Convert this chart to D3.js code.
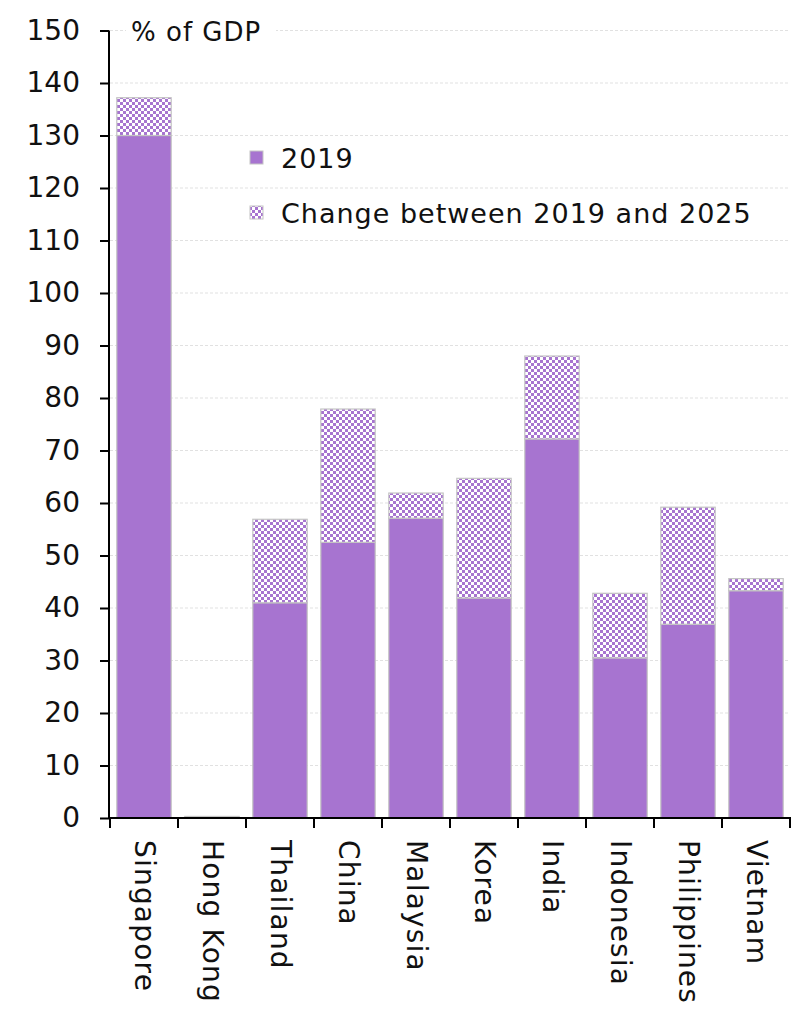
<!DOCTYPE html>
<html><head><meta charset="utf-8">
<script src="https://cdn.jsdelivr.net/npm/d3@7"></script>
<style>
body{margin:0;background:#fff;}
text{font-family:"DejaVu Sans",sans-serif;fill:#111;}
</style></head>
<body>
<svg id="chart" width="804" height="1009"></svg>
<script>
const categories = ["Singapore","Hong Kong","Thailand","China","Malaysia","Korea","India","Indonesia","Philippines","Vietnam"];
const values2019 = [130, 0.3, 41.0, 52.5, 57.1, 41.9, 72.2, 30.5, 36.9, 43.3];
const change2019to2025 = [7.2, 0, 15.9, 25.4, 4.8, 22.8, 15.8, 12.3, 22.3, 2.3];
const yTicks = [0,10,20,30,40,50,60,70,80,90,100,110,120,130,140,150];
const seriesNames = ["2019","Change between 2019 and 2025"];
const unitLabel = "% of GDP";

const svg = d3.select("#chart");
const purple = "#a774d0";
const defs = svg.append("defs");
const pat = defs.append("pattern").attr("id","hatch").attr("patternUnits","userSpaceOnUse")
  .attr("width",6).attr("height",6);
pat.append("rect").attr("width",6).attr("height",6).attr("fill","#fff");
pat.append("rect").attr("x",0).attr("y",0).attr("width",3).attr("height",3).attr("fill",purple);
pat.append("rect").attr("x",3).attr("y",3).attr("width",3).attr("height",3).attr("fill",purple);

const x = d3.scaleBand().domain(categories).range([110,790]).paddingInner(0.2).paddingOuter(0.1);
const y = d3.scaleLinear().domain([0,150]).range([818,30.5]);

// gridlines
svg.append("g").selectAll("line").data(yTicks.filter(d=>d>0)).join("line")
  .attr("x1",110).attr("x2",790).attr("y1",d=>y(d)).attr("y2",d=>y(d))
  .attr("stroke","#d9d9d9").attr("stroke-width",0.8).attr("stroke-dasharray","3,2");

// bars
const data = categories.map((c,i)=>({c, a:values2019[i], b:change2019to2025[i]}));
const g = svg.append("g");
g.selectAll(".base").data(data).join("rect").attr("class","base")
  .attr("x",d=>x(d.c)).attr("width",x.bandwidth())
  .attr("y",d=>y(d.a)).attr("height",d=>Math.max(0.8,y(0)-y(d.a)))
  .attr("fill",purple).attr("stroke","#c4c4c4").attr("stroke-width",1.2);
g.selectAll(".chg").data(data.filter(d=>d.b>0)).join("rect").attr("class","chg")
  .attr("x",d=>x(d.c)).attr("width",x.bandwidth())
  .attr("y",d=>y(d.a+d.b)).attr("height",d=>y(d.a)-y(d.a+d.b))
  .attr("fill","url(#hatch)").attr("stroke","#c4c4c4").attr("stroke-width",1.2);

// y axis
const yAxis = d3.axisLeft(y).tickValues(yTicks).tickSize(9).tickPadding(20);
const ya = svg.append("g").attr("transform","translate(109,0)").call(yAxis);
ya.select(".domain").attr("stroke","#000").attr("stroke-width",2).attr("d","M0,"+y(150)+"V"+y(0));
ya.selectAll(".tick line").attr("stroke","#000").attr("stroke-width",2);
ya.selectAll(".tick text").style("font-size","28px").style("font-family","DejaVu Sans").attr("fill","#111");

// x axis
const xa = svg.append("g").attr("transform","translate(0,818)");
xa.append("line").attr("x1",109).attr("x2",791).attr("stroke","#000").attr("stroke-width",2);
const bounds = d3.range(categories.length+1).map(i=>x.range()[0]+i*x.step());
xa.selectAll(".xt").data(bounds).join("line").attr("class","xt")
  .attr("x1",d=>d).attr("x2",d=>d).attr("y1",0).attr("y2",10)
  .attr("stroke","#000").attr("stroke-width",2);
xa.selectAll(".xl").data(categories).join("text").attr("class","xl")
  .attr("transform",d=>`translate(${x(d)+x.bandwidth()/2},22) rotate(90)`)
  .attr("text-anchor","start").attr("dominant-baseline","central")
  .style("font-size","28px").style("letter-spacing","1.2px").text(d=>d);

// unit label
svg.append("rect").attr("x",126).attr("y",14).attr("width",150).attr("height",32).attr("fill","#fff");
svg.append("text").attr("x",131).attr("y",41).style("font-size","26px").style("letter-spacing","1px").text(unitLabel);

// legend
const lg = svg.append("g");
const lgY = [158, 213];
lg.append("rect").attr("x",250).attr("y",lgY[0]-7).attr("width",13).attr("height",13).attr("fill",purple).attr("stroke","#c4c4c4");
lg.append("rect").attr("x",250).attr("y",lgY[1]-7).attr("width",13).attr("height",13).attr("fill","url(#hatch)").attr("stroke","#c4c4c4");
lg.selectAll("text").data(seriesNames).join("text")
  .attr("x",281).attr("y",(d,i)=>lgY[i]).attr("dominant-baseline","central")
  .style("font-size","27px").style("letter-spacing","1px").text(d=>d);
</script>
</body></html>
